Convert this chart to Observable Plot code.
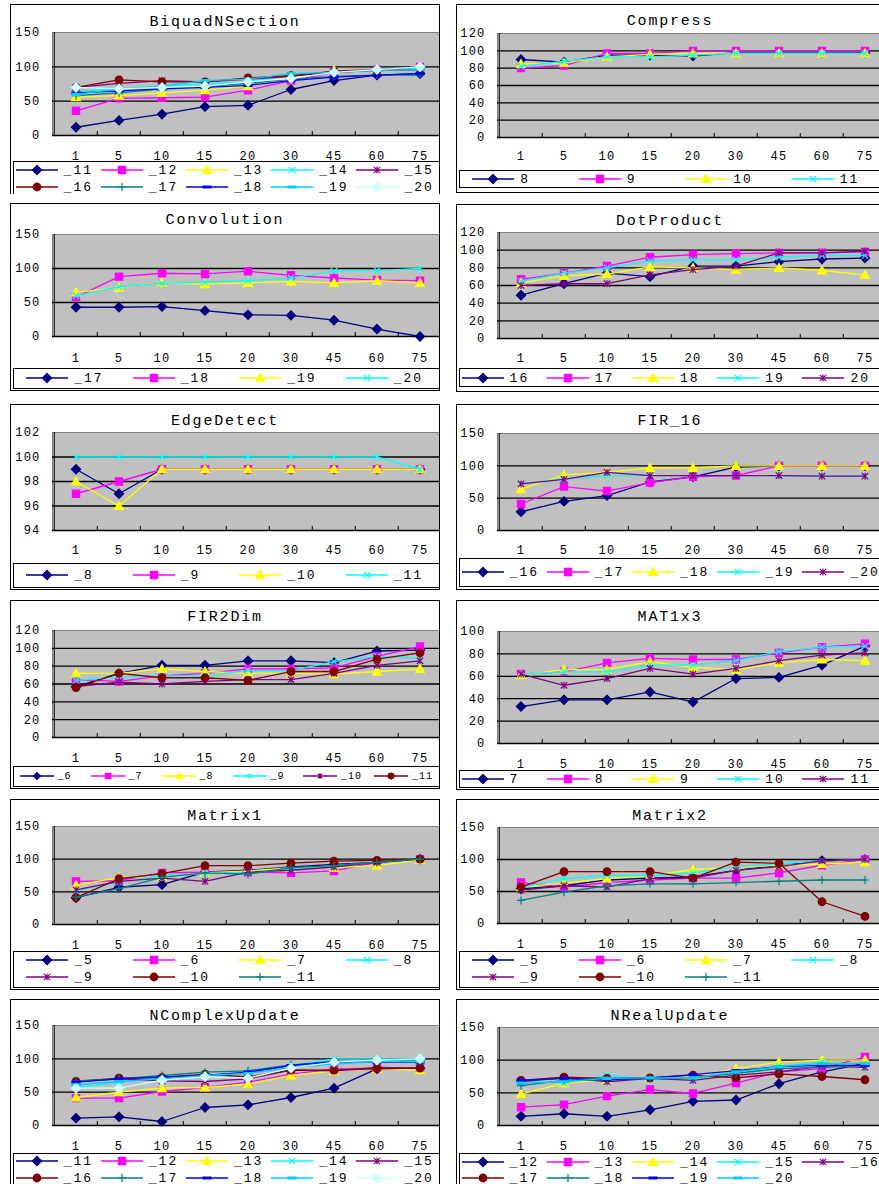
<!DOCTYPE html>
<html><head><meta charset="utf-8">
<script src="https://cdn.jsdelivr.net/npm/d3@7"></script>
<script src="https://cdn.jsdelivr.net/npm/@observablehq/plot@0.6"></script>
<style>
html,body{margin:0;padding:0;background:#fff;}
body{width:879px;height:1184px;overflow:hidden;position:relative;font-family:"Liberation Mono",monospace;color:#000;}
.panel{position:absolute;overflow:hidden;background:#fff;}
.panel svg.chart{position:absolute;left:0;top:0;max-width:none;}
.border{position:absolute;left:0;top:0;box-sizing:border-box;border:1px solid #000;pointer-events:none;}
.title{position:absolute;left:0;text-align:center;font-size:15px;letter-spacing:1.8px;line-height:18px;}
.legend{position:absolute;left:3px;box-sizing:border-box;border:1px solid #000;}
.item{position:absolute;display:flex;align-items:center;justify-content:center;height:16px;font-size:13px;letter-spacing:2px;white-space:pre;}
.item span{display:inline-block;min-width:32px;margin-left:6px;}
</style></head><body>
<script>
// ---------------- DATA ----------------
const categories = ["1","5","10","15","20","30","45","60","75"];

const ticks150 = [0,50,100,150];
const ticks120 = [0,20,40,60,80,100,120];
const ticks100 = [0,20,40,60,80,100];
const ticksEdge = [94,96,98,100,102];

const biquadNames = ["_11","_12","_13","_14","_15","_16","_17","_18","_19","_20"];
const biquadValues = [
  [12,22,31,42,44,67,80,88,90],
  [36,54,55,56,66,80,92,96,100],
  [56,58,62,66,72,85,95,96,100],
  [65,68,72,75,78,88,92,96,98],
  [70,76,80,78,82,86,94,96,100],
  [70,81,78,78,84,87,92,95,96],
  [58,62,68,72,76,82,86,88,88],
  [62,65,68,70,73,80,85,88,90],
  [60,68,72,80,82,90,92,95,96],
  [70,68,70,72,78,83,92,96,100]
];

const compressNames = ["8","9","10","11"];
const compressValues = [
  [90,87,95,95,94,98,98,98,98],
  [80,83,97,97,100,100,100,100,100],
  [85,86,93,96,97,97,97,97,97],
  [82,88,93,93,95,97,97,97,97]
];

const convolutionNames = ["_17","_18","_19","_20"];
const convolutionValues = [
  [43,43,44,38,32,31,24,11,0],
  [58,88,93,92,96,90,86,83,82],
  [65,72,79,77,79,81,79,82,79],
  [60,73,78,80,82,86,96,97,100]
];

const dotProductNames = ["16","17","18","19","20"];
const dotProductValues = [
  [49,62,74,70,82,82,87,90,91],
  [67,74,82,92,95,96,97,97,98],
  [63,71,73,81,80,78,80,77,72],
  [65,74,80,88,89,89,92,94,94],
  [60,62,62,72,78,82,97,97,99]
];

const edgeNames = ["_8","_9","_10","_11"];
const edgeValues = [
  [99,97,99,99,99,99,99,99,99],
  [97,98,99,99,99,99,99,99,99],
  [98,96,99,99,99,99,99,99,99],
  [100,100,100,100,100,100,100,100,99]
];

const fir16Names = ["_16","_17","_18","_19","_20"];
const fir16Values = [
  [29,45,54,75,83,98,100,100,100],
  [41,68,61,74,83,85,100,100,100],
  [64,86,90,97,97,100,100,100,100],
  [72,80,85,85,85,85,85,84,84],
  [72,79,90,85,85,85,85,84,84]
];

const fir2dNames = ["_6","_7","_8","_9","_10","_11"];
const fir2dValues = [
  [57,72,81,81,86,86,84,97,98],
  [65,63,69,72,77,77,78,91,102],
  [72,72,77,74,72,72,71,74,77],
  [64,68,69,69,75,75,85,91,89],
  [57,62,60,63,65,65,72,81,86],
  [56,72,67,67,64,74,74,88,95]
];

const mat1x3Names = ["7","8","9","10","11"];
const mat1x3Values = [
  [33,39,39,46,37,58,59,70,87],
  [62,64,72,76,75,75,81,86,89],
  [61,66,66,73,68,66,72,75,74],
  [62,64,64,70,70,74,82,86,87],
  [62,52,58,67,62,67,74,79,81]
];

const matrix1Names = ["_5","_6","_7","_8","_9","_10","_11"];
const matrix1Values = [
  [41,57,61,80,83,88,92,95,100],
  [66,67,79,80,80,79,82,95,100],
  [60,72,73,79,82,87,87,90,99],
  [52,65,75,78,80,85,90,95,100],
  [53,66,71,66,80,83,88,95,100],
  [41,70,78,90,90,94,97,98,100],
  [42,55,72,79,77,87,90,95,100]
];

const matrix2Names = ["_5","_6","_7","_8","_9","_10","_11"];
const matrix2Values = [
  [54,59,68,71,73,83,91,98,100],
  [64,57,64,68,71,71,79,91,100],
  [57,63,70,75,84,88,91,93,96],
  [56,70,75,75,79,89,93,98,100],
  [52,59,57,70,71,83,89,98,100],
  [57,81,81,81,71,96,94,34,11],
  [36,49,59,62,62,64,66,68,68]
];

const nComplexNames = ["_11","_12","_13","_14","_15","_16","_17","_18","_19","_20"];
const nComplexValues = [
  [11,13,6,27,31,42,56,85,86],
  [41,41,51,57,65,77,85,86,86],
  [42,50,56,57,62,75,82,85,83],
  [57,65,71,75,80,90,100,100,100],
  [66,70,67,66,70,83,82,87,86],
  [66,71,72,77,73,83,83,85,86],
  [67,70,75,80,82,91,95,96,97],
  [65,70,73,75,80,90,96,95,95],
  [61,66,70,75,78,87,92,96,96],
  [56,56,68,73,71,86,95,98,100]
];

const nRealNames = ["_12","_13","_14","_15","_16","_17","_18","_19","_20"];
const nRealValues = [
  [14,18,14,24,37,39,64,82,95],
  [28,32,45,55,49,65,82,87,105],
  [48,65,70,73,75,87,97,100,100],
  [69,65,77,70,72,79,91,97,89],
  [67,73,67,72,69,77,82,91,89],
  [69,74,72,73,77,73,79,75,70],
  [61,69,70,72,73,80,87,89,92],
  [69,72,70,73,78,84,90,92,92],
  [65,67,72,73,73,82,90,95,95]
];

const seriesColors = ["#000080","#FF00FF","#FFFF00","#00FFFF","#800080","#800000","#008080","#0000FF","#00CCFF","#CCFFFF"];
const seriesMarks = ["diamond","square","triangle","times","asterisk","circle","plus","dash","dash","diamond"];

// ---------------- LAYOUT ----------------
const panels = [
  {title:"BiquadNSection", names:biquadNames, values:biquadValues, ticks:ticks150, x:10,y:4,w:430,h:190,bh:210, plotLeft:42, plotTop:28, plotBottom:131, xlab:151, titleY:19, legTop:157, legH:60, rows:[166,183], cols:5},
  {title:"Compress", names:compressNames, values:compressValues, ticks:ticks120, x:456,y:4,w:428,h:189,bh:189, plotLeft:41, plotTop:29, plotBottom:133, xlab:151, titleY:18, legTop:166, legH:18, rows:[175], cols:4},
  {title:"Convolution", names:convolutionNames, values:convolutionValues, ticks:ticks150, x:10,y:203,w:430,h:188,bh:188, plotLeft:42, plotTop:31, plotBottom:133, xlab:154, titleY:18, legTop:165, legH:21, rows:[175], cols:4},
  {title:"DotProduct", names:dotProductNames, values:dotProductValues, ticks:ticks120, x:456,y:204,w:428,h:188,bh:188, plotLeft:41, plotTop:28, plotBottom:134, xlab:153, titleY:18, legTop:164, legH:19, rows:[174], cols:5},
  {title:"EdgeDetect", names:edgeNames, values:edgeValues, ticks:ticksEdge, x:10,y:404,w:430,h:186,bh:186, plotLeft:42, plotTop:28, plotBottom:126, xlab:145, titleY:18, legTop:159, legH:25, rows:[171], cols:4},
  {title:"FIR_16", names:fir16Names, values:fir16Values, ticks:ticks150, x:456,y:404,w:428,h:186,bh:186, plotLeft:41, plotTop:29, plotBottom:126, xlab:145, titleY:18, legTop:154, legH:29, rows:[168], cols:5},
  {title:"FIR2Dim", names:fir2dNames, values:fir2dValues, ticks:ticks120, x:10,y:600,w:430,h:189,bh:189, plotLeft:42, plotTop:30, plotBottom:137, xlab:157, titleY:18, legTop:166, legH:21, rows:[176], cols:6, small:true},
  {title:"MAT1x3", names:mat1x3Names, values:mat1x3Values, ticks:ticks100, x:456,y:600,w:428,h:190,bh:190, plotLeft:41, plotTop:31, plotBottom:143, xlab:163, titleY:18, legTop:170, legH:18, rows:[179], cols:5},
  {title:"Matrix1", names:matrix1Names, values:matrix1Values, ticks:ticks150, x:10,y:799,w:430,h:191,bh:191, plotLeft:42, plotTop:27, plotBottom:125, xlab:145, titleY:18, legTop:152, legH:37, rows:[161,178], cols:4},
  {title:"Matrix2", names:matrix2Names, values:matrix2Values, ticks:ticks150, x:456,y:799,w:428,h:191,bh:191, plotLeft:41, plotTop:28, plotBottom:124, xlab:144, titleY:18, legTop:152, legH:37, rows:[161,178], cols:4},
  {title:"NComplexUpdate", names:nComplexNames, values:nComplexValues, ticks:ticks150, x:10,y:999,w:430,h:200,bh:220, plotLeft:42, plotTop:26, plotBottom:126, xlab:146, titleY:18, legTop:154, legH:60, rows:[162,179], cols:5},
  {title:"NRealUpdate", names:nRealNames, values:nRealValues, ticks:ticks150, x:456,y:999,w:428,h:200,bh:220, plotLeft:41, plotTop:28, plotBottom:126, xlab:146, titleY:18, legTop:154, legH:60, rows:[163,179], cols:5}
];

const BW = 43.5;

// Excel-like marker symbols
const rOf = size => Math.sqrt(size / Math.PI);
const SYM = {
  diamond:{draw(c,size){const s=rOf(size)*1.15;c.moveTo(0,-s);c.lineTo(s,0);c.lineTo(0,s);c.lineTo(-s,0);c.closePath();}},
  square:{draw(c,size){const s=rOf(size)*0.9;c.rect(-s,-s,2*s,2*s);}},
  triangle:{draw(c,size){const s=rOf(size)*1.1;c.moveTo(0,-s);c.lineTo(s,s*0.8);c.lineTo(-s,s*0.8);c.closePath();}},
  times:{draw(c,size){const s=rOf(size)*0.8;c.moveTo(-s,-s);c.lineTo(s,s);c.moveTo(s,-s);c.lineTo(-s,s);}},
  asterisk:{draw(c,size){const s=rOf(size)*0.8;c.moveTo(-s,-s);c.lineTo(s,s);c.moveTo(s,-s);c.lineTo(-s,s);c.moveTo(0,-s*1.1);c.lineTo(0,s*1.1);}},
  circle:{draw(c,size){const s=rOf(size)*0.95;c.moveTo(s,0);c.arc(0,0,s,0,2*Math.PI);}},
  plus:{draw(c,size){const s=rOf(size)*1.0;c.moveTo(-s,0);c.lineTo(s,0);c.moveTo(0,-s);c.lineTo(0,s);}},
  dash:{draw(c,size){const s=rOf(size)*1.0;c.rect(-s,-1,2*s,2);}}
};
const filledMarks = new Set(["diamond","square","triangle","circle","dash"]);

function buildPanel(p){
  const el = document.createElement("div");
  el.className = "panel";
  Object.assign(el.style,{left:p.x+"px",top:p.y+"px",width:p.w+"px",height:p.h+"px"});

  const ymin = p.ticks[0], ymax = p.ticks[p.ticks.length-1];
  const svgH = p.plotBottom + 30;
  const plotH = p.plotBottom - p.plotTop;
  const marks = [
    Plot.frame({fill:"#c0c0c0", stroke:"#808080"}),
    Plot.ruleY(p.ticks.slice(1,-1), {stroke:"#000", strokeWidth:1.3}),
    Plot.ruleY([ymin], {stroke:"#000", strokeWidth:1.3}),
    Plot.ruleX([categories[0]], {dx:-BW/2, stroke:"#000"}),
    Plot.ruleX(categories.slice(1), {dx:-BW/2, stroke:"#000", insetTop:plotH-4})
  ];
  p.values.forEach((vals,k)=>{
    const data = categories.map((c,i)=>({cat:c, v:vals[i]}));
    const col = seriesColors[k], m = seriesMarks[k];
    marks.push(Plot.line(data,{x:"cat",y:"v",stroke:col,strokeWidth:1.3}));
    marks.push(Plot.dot(data,{x:"cat",y:"v",symbol:SYM[m],r:4,fill:filledMarks.has(m)?col:"none",stroke:col,strokeWidth:1.2}));
  });
  marks.push(Plot.axisX({tickSize:0, tickPadding:p.xlab-p.plotBottom-4.5, label:null}));
  marks.push(Plot.axisY({ticks:p.ticks, tickSize:0, tickPadding:12, label:null}));

  const svg = Plot.plot({
    width: p.plotLeft + 9*BW, height: svgH,
    marginLeft: p.plotLeft, marginRight: 0, marginTop: p.plotTop, marginBottom: svgH - p.plotBottom,
    x:{type:"band", domain:categories, padding:0, label:null},
    y:{domain:[ymin,ymax], label:null},
    style:{background:"transparent", fontFamily:"Liberation Mono", fontSize:"12px", letterSpacing:"1.2px", color:"#000", maxWidth:"none", overflow:"visible"},
    marks
  });
  svg.classList.add("chart");
  svg.style.maxWidth = "none";
  el.appendChild(svg);

  const t = document.createElement("div");
  t.className = "title";
  t.textContent = p.title;
  Object.assign(t.style,{top:(p.titleY-9)+"px", width:p.w+"px"});
  el.appendChild(t);

  const leg = document.createElement("div");
  leg.className = "legend";
  Object.assign(leg.style,{top:p.legTop+"px", width:(p.w+10)+"px", height:p.legH+"px"});
  el.appendChild(leg);

  const itemW = 426 / p.cols;
  const lineLen = p.small ? 34 : 42;
  p.names.forEach((name,k)=>{
    const row = Math.floor(k/p.cols), colI = k % p.cols;
    const it = document.createElement("div");
    it.className = "item";
    Object.assign(it.style,{left:(3+colI*itemW)+"px", top:(p.rows[row]-8)+"px", width:itemW+"px"});
    if (p.small) { it.style.fontSize = "10px"; it.style.letterSpacing = "1px"; }
    const col = seriesColors[k], m = seriesMarks[k];
    const path = d3.path();
    SYM[m].draw(path, Math.PI*(p.small?9:16));
    const ns = "http://www.w3.org/2000/svg";
    const s = document.createElementNS(ns,"svg");
    s.setAttribute("width",lineLen); s.setAttribute("height",14);
    const ln = document.createElementNS(ns,"line");
    ln.setAttribute("x1",0); ln.setAttribute("x2",lineLen); ln.setAttribute("y1",7); ln.setAttribute("y2",7);
    ln.setAttribute("stroke",col); ln.setAttribute("stroke-width",1.3);
    s.appendChild(ln);
    const pth = document.createElementNS(ns,"path");
    pth.setAttribute("d",path.toString());
    pth.setAttribute("transform",`translate(${lineLen/2},7)`);
    pth.setAttribute("fill",filledMarks.has(m)?col:"none");
    pth.setAttribute("stroke",col); pth.setAttribute("stroke-width",1.2);
    s.appendChild(pth);
    it.appendChild(s);
    const lab = document.createElement("span");
    lab.textContent = name;
    if (p.small) { lab.style.minWidth = "20px"; lab.style.marginLeft = "4px"; }
    it.appendChild(lab);
    el.appendChild(it);
  });

  const b = document.createElement("div");
  b.className = "border";
  Object.assign(b.style,{width:p.w+"px", height:p.bh+"px"});
  el.appendChild(b);

  document.body.appendChild(el);
}

panels.forEach(buildPanel);
</script>
</body></html>
